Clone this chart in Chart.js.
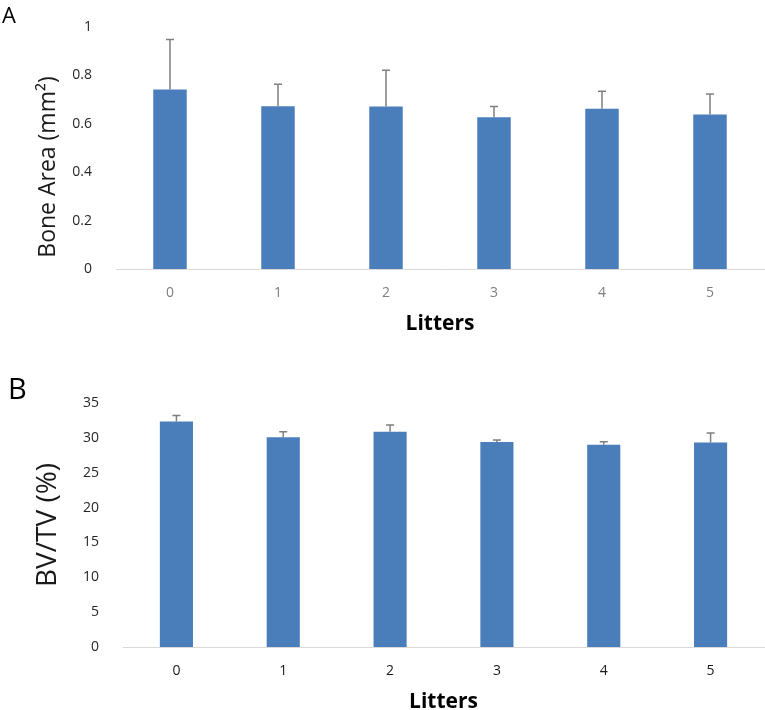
<!DOCTYPE html>
<html>
<head>
<meta charset="utf-8">
<script src="https://cdn.jsdelivr.net/npm/chart.js@4"></script>
<style>
  html, body { margin: 0; padding: 0; background: #fff; overflow: hidden; }
  .panel { position: absolute; left: 0; width: 765px; }
  #panelA { top: 0; height: 345px; }
  #panelB { top: 345px; height: 380px; }
</style>
</head>
<body>
<div class="panel" id="panelA"><canvas id="chart-a"></canvas></div>
<div class="panel" id="panelB"><canvas id="chart-b"></canvas></div>
<script>
const litters = ['0', '1', '2', '3', '4', '5'];

// panel A - bone area (mm2), mean + SD (upper only)
const boneArea = [0.742, 0.673, 0.671, 0.627, 0.662, 0.638];
const boneAreaErr = [0.206, 0.090, 0.150, 0.045, 0.073, 0.085];
const boneAreaTicks = [0, 0.2, 0.4, 0.6, 0.8, 1];

// panel B - BV/TV (%)
const bvtv = [32.36, 30.10, 30.87, 29.39, 29.00, 29.34];
const bvtvErr = [0.85, 0.77, 0.96, 0.29, 0.43, 1.35];
const bvtvTicks = [0, 5, 10, 15, 20, 25, 30, 35];

Chart.defaults.font.family = "'Open Sans', sans-serif";

const errorBars = {
  id: 'errorBars',
  afterDatasetsDraw(chart) {
    const { ctx, scales: { x, y } } = chart;
    const ds = chart.data.datasets[0];
    ctx.save();
    ctx.strokeStyle = '#7f7f7f';
    ctx.lineWidth = 1.5;
    ds.data.forEach((v, i) => {
      const px = x.getPixelForValue(i);
      const base = y.getPixelForValue(v);
      const top = y.getPixelForValue(v + ds.errors[i]);
      ctx.beginPath();
      ctx.moveTo(px, base);
      ctx.lineTo(px, top);
      ctx.moveTo(px - 4, top);
      ctx.lineTo(px + 4, top);
      ctx.stroke();
    });
    ctx.restore();
  }
};

// panel letter (and the off-centre y title of panel A)
const panelText = {
  id: 'panelText',
  afterDraw(chart, args, opts) {
    const { ctx } = chart;
    ctx.save();
    ctx.fillStyle = '#000';
    ctx.textBaseline = 'alphabetic';
    ctx.textAlign = 'left';
    ctx.font = `${opts.size}px 'Open Sans', sans-serif`;
    ctx.fillText(opts.letter, opts.x, opts.y);
    if (opts.yTitle) {
      ctx.translate(opts.yTitleX, opts.yTitleY);
      ctx.rotate(-Math.PI / 2);
      ctx.textAlign = 'center';
      ctx.textBaseline = 'middle';
      ctx.fillStyle = '#1a1a1a';
      ctx.font = "23px 'Open Sans', sans-serif";
      ctx.fillText(opts.yTitle, 0, 0);
    }
    ctx.restore();
  }
};

function makeChart(id, values, errors, ticks, cfg) {
  return new Chart(document.getElementById(id), {
    type: 'bar',
    data: {
      labels: litters,
      datasets: [{
        data: values,
        errors: errors,
        backgroundColor: '#4a7ebb',
        borderWidth: 0,
        barPercentage: 0.31,
        categoryPercentage: 1.0
      }]
    },
    options: {
      responsive: true,
      maintainAspectRatio: false,
      animation: false,
      layout: { padding: cfg.padding },
      plugins: {
        legend: { display: false },
        tooltip: { enabled: false },
        panelText: cfg.panel
      },
      scales: {
        x: {
          grid: { display: false },
          border: { display: true, color: '#d9d9d9', width: 1 },
          ticks: { color: cfg.xTickColor, font: { size: 14 }, padding: cfg.xTickPad },
          title: {
            display: true,
            text: 'Litters',
            color: '#000',
            font: { size: 21, weight: 'bold' },
            padding: { top: 0, bottom: cfg.titlePad }
          },
          afterFit(scale) { scale.height = cfg.xHeight; }
        },
        y: {
          min: ticks[0],
          max: ticks[ticks.length - 1],
          grid: { display: false },
          border: { display: false },
          ticks: {
            stepSize: ticks[1] - ticks[0],
            color: '#262626',
            font: { size: 14 },
            padding: 16,
            callback: (v) => String(Math.round(v * 10) / 10)
          },
          title: cfg.yTitle,
          afterFit(scale) { scale.width = cfg.yWidth; }
        }
      }
    },
    plugins: [errorBars, panelText]
  });
}

makeChart('chart-a', boneArea, boneAreaErr, boneAreaTicks, {
  padding: { top: 27, right: 1, left: 0, bottom: 0 },
  xTickColor: '#7f7f7f',
  xTickPad: 8,
  titlePad: 8,
  xHeight: 76,
  yWidth: 116,
  yTitle: { display: false },
  panel: { letter: 'A', size: 22, x: 2, y: 23, yTitle: 'Bone Area (mm²)', yTitleX: 48, yTitleY: 167 }
});

makeChart('chart-b', bvtv, bvtvErr, bvtvTicks, {
  padding: { top: 58, right: 1, left: 0, bottom: 0 },
  xTickColor: '#1a1a1a',
  xTickPad: 8,
  titlePad: 10,
  xHeight: 78,
  yWidth: 123,
  yTitle: {
    display: true,
    text: 'BV/TV (%)',
    color: '#1a1a1a',
    font: { size: 28 },
    padding: { top: 31, bottom: 0 }
  },
  panel: { letter: 'B', size: 29, x: 8, y: 54 }
});
</script>
</body>
</html>
